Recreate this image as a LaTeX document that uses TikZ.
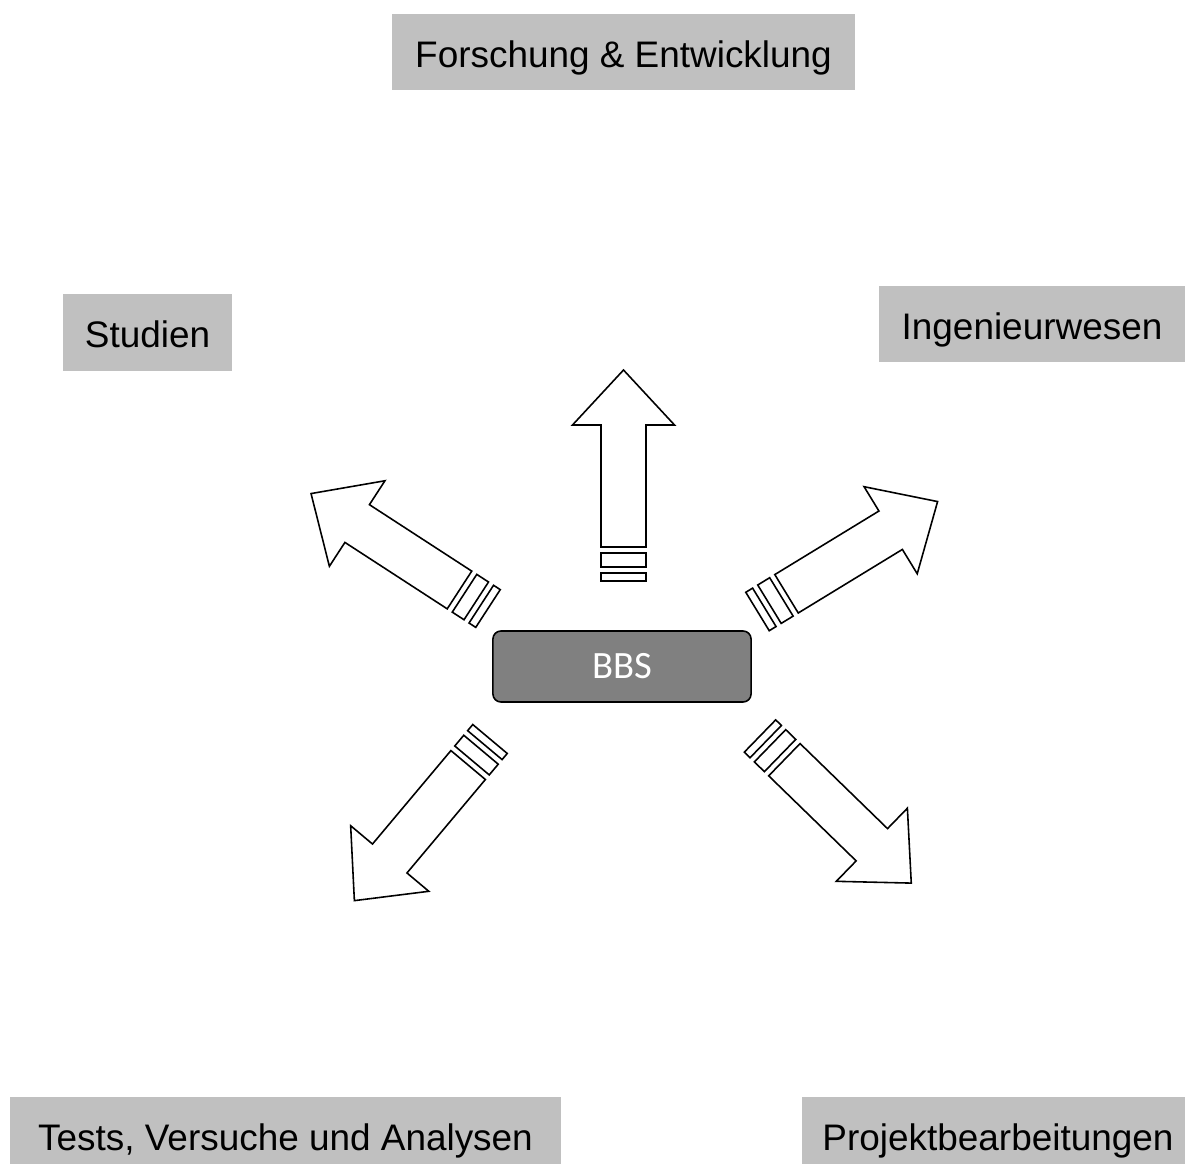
\documentclass[tikz,border=0pt]{standalone}
\usepackage{fontspec}
\setmainfont{Liberation Sans}
\newfontfamily\bbsfont{Carlito}
\usepackage{tikz}
\definecolor{boxgray}{RGB}{192,192,192}
\definecolor{bbsgray}{RGB}{128,128,128}
\tikzset{
    labelbox/.style={fill=boxgray, draw=none, inner sep=0mm, minimum height=0.76cm,
        font=\fontsize{10.5}{12.6}\selectfont, text height=0.86em, text depth=0pt},
    arrowline/.style={draw=black, fill=white, line width=0.45pt, line join=miter}
}
\tikzset{
    pics/stripedarrow/.style={code={
        \draw[arrowline] (0,-22.5) rectangle (8,22.5);
        \draw[arrowline] (14,-22.5) rectangle (28,22.5);
        \draw[arrowline] (34,-22.5) -- (156,-22.5) -- (156,-51) -- (211,0)
            -- (156,51) -- (156,22.5) -- (34,22.5) -- cycle;
    }}
}
\begin{document}
\begin{tikzpicture}[x=0.01cm, y=-0.01cm]
    \clip[use as bounding box] (0,0) rectangle (1185,1164);

    \node (fe) [labelbox, minimum width=4.63cm] at (623.5, 52) {Forschung \& Entwicklung};
    \node (st) [labelbox, minimum width=1.69cm] at (147.5, 332.5) {Studien};
    \node (iw) [labelbox, minimum width=3.06cm] at (1032, 324) {Ingenieurwesen};
    \node (tv) [labelbox, minimum width=5.51cm] at (285.5, 1135) {Tests, Versuche und Analysen};
    \node (pb) [labelbox, minimum width=3.92cm] at (998, 1135) {Projektbearbeitungen};

    \node (bbs) [draw=black, line width=0.45pt, fill=bbsgray, rounded corners=0.08cm,
        minimum width=2.58cm, minimum height=0.71cm, text=white,
        font=\bbsfont\fontsize{11}{13}\selectfont] at (622, 666.5) {BBS};

    % arrow tails
    \coordinate (tfe) at (623.5, 581);
    \coordinate (tst) at (488, 608.5);
    \coordinate (tiw) at (757.5, 611.5);
    \coordinate (ttv) at (490, 739);
    \coordinate (tpb) at (760, 736);

    \pic[rotate=90] at (tfe) {stripedarrow};
    \pic[rotate=147] at (tst) {stripedarrow};
    \pic[rotate=31.4] at (tiw) {stripedarrow};
    \pic[rotate=-130] at (ttv) {stripedarrow};
    \pic[rotate=-44.2] at (tpb) {stripedarrow};
\end{tikzpicture}
\end{document}
